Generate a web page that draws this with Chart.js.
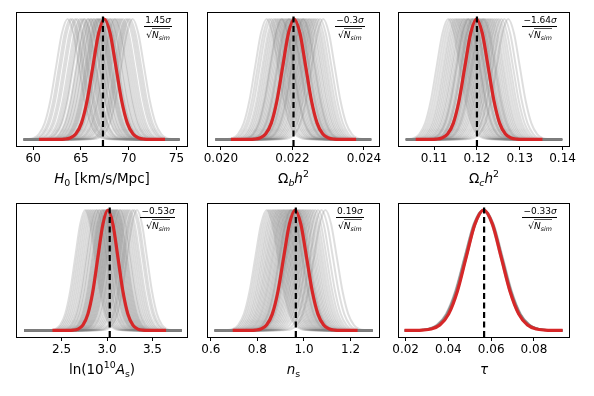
<!DOCTYPE html>
<html>
<head>
<meta charset="utf-8">
<script src="https://cdn.jsdelivr.net/npm/chart.js@4.4.1/dist/chart.umd.min.js"></script>
<style>
  body { margin: 0; background: #fff; }
  #wrap { position: relative; width: 594px; height: 396px; overflow: hidden; }
  canvas { position: absolute; }
</style>
</head>
<body>
<div id="wrap"></div>
<script>
// shape of one normalised posterior, in units of sigma from its mean
const profileSteps   = [-6, -5, -4, -3.5, -3, -2.5, -2, -1.5, -1, -0.5, 0, 0.5, 1, 1.5, 2, 2.5, 3, 3.5, 4, 5, 6];
const profileHeights = [0, 0, 0.0003, 0.0022, 0.011, 0.044, 0.135, 0.325, 0.607, 0.882, 1, 0.882, 0.607, 0.325, 0.135, 0.044, 0.011, 0.0022, 0.0003, 0, 0];

// H0
const h0Ticks = [60, 65, 70, 75];
const h0Sims = [63.6, 63.9, 64.1, 64.4, 64.6, 64.9, 65.1, 65.3, 65.4, 65.7, 65.8, 66.0, 66.1, 66.3, 66.4, 66.6, 66.7, 66.9, 67.0, 67.1,
                67.3, 67.4, 67.5, 67.7, 67.8, 68.0, 68.1, 68.3, 68.5, 68.6, 68.8, 69.0, 69.2, 69.4, 69.7, 69.9, 70.1, 70.4, 66.8, 67.6];
// omega_b h^2
const obTicks = [0.020, 0.022, 0.024];
const obSims = [0.02128, 0.02135, 0.02141, 0.02148, 0.02153, 0.02158, 0.02163, 0.02168, 0.02172, 0.02176, 0.02180, 0.02184, 0.02188, 0.02192,
                0.02195, 0.02199, 0.02203, 0.02206, 0.02210, 0.02213, 0.02217, 0.02221, 0.02224, 0.02228, 0.02232, 0.02236, 0.02240, 0.02245,
                0.02249, 0.02254, 0.02259, 0.02264, 0.02270, 0.02277, 0.02286, 0.02201, 0.02215, 0.02190, 0.02230, 0.02170];
// omega_c h^2
const ocTicks = [0.11, 0.12, 0.13, 0.14];
const ocSims = [0.1133, 0.1138, 0.1143, 0.1148, 0.1152, 0.1156, 0.1160, 0.1164, 0.1168, 0.1171, 0.1175, 0.1178, 0.1181, 0.1185, 0.1188,
                0.1191, 0.1194, 0.1197, 0.1200, 0.1203, 0.1207, 0.1210, 0.1213, 0.1217, 0.1220, 0.1224, 0.1228, 0.1232, 0.1236, 0.1241,
                0.1246, 0.1251, 0.1257, 0.1264, 0.1273, 0.1190, 0.1205, 0.1215, 0.1180, 0.1198];
// ln(10^10 As)
const asTicks = [2.5, 3.0, 3.5];
const asSims = [2.76, 2.78, 2.80, 2.82, 2.84, 2.86, 2.88, 2.89, 2.91, 2.92, 2.94, 2.95, 2.96, 2.98, 2.99, 3.00, 3.01, 3.02, 3.03, 3.05,
                3.06, 3.07, 3.08, 3.10, 3.11, 3.12, 3.14, 3.15, 3.17, 3.19, 3.21, 3.23, 3.25, 3.28, 3.30, 3.33, 2.97, 3.04, 3.09, 3.00];
// n_s
const nsTicks = [0.6, 0.8, 1.0, 1.2];
const nsSims = [0.840, 0.848, 0.856, 0.864, 0.871, 0.878, 0.885, 0.891, 0.897, 0.903, 0.909, 0.914, 0.919, 0.925, 0.930, 0.935, 0.940,
                0.945, 0.950, 0.955, 0.960, 0.965, 0.970, 0.976, 0.981, 0.987, 0.993, 0.999, 1.006, 1.013, 1.021, 1.029, 1.038, 1.048,
                1.060, 1.075, 1.092, 0.958, 0.972, 0.944];
// tau: the simulations barely move, only the widths differ a little
const tauTicks = [0.02, 0.04, 0.06, 0.08];
const tauSims = [0.0560, 0.0563, 0.0566, 0.0569, 0.0562, 0.0568, 0.0565, 0.0564];
const tauSimSigmas = [0.0084, 0.0086, 0.0083, 0.0085, 0.0087, 0.0084, 0.0086, 0.0085];

const fiducials  = [67.3, 0.02203, 0.1200, 3.03, 0.965, 0.0567];
const meanPost   = [67.45, 0.02205, 0.1199, 3.01, 0.962, 0.0565];
const sigmas     = [1.2, 0.00032, 0.0027, 0.11, 0.049, 0.0082];
const redRanges  = [[60.6, 73.8], [0.02028, 0.02378], [0.1057, 0.1353], [2.40, 3.65], [0.694, 1.230], [0.0195, 0.0934]];
const grayRanges = [[59.0, 75.3], [0.01985, 0.0242], [0.1034, 0.1399], [2.09, 3.82], [0.617, 1.294], [0.0195, 0.0934]];
const xLimits    = [[58.3, 76.1], [0.01964, 0.02442], [0.1018, 0.1415], [2.01, 3.88], [0.588, 1.322], [0.0169, 0.0964]];
const tickSets   = [h0Ticks, obTicks, ocTicks, asTicks, nsTicks, tauTicks];
const tickDigits = [0, 3, 2, 1, 1, 2];
const simSets    = [h0Sims, obSims, ocSims, asSims, nsSims, tauSims];
const biases     = ['1.45', '\u22120.3', '\u22121.64', '\u22120.53', '0.19', '\u22120.33'];
const axisLabels = [
  [{t: 'H', i: 1}, {t: '0', sub: 1}, {t: ' [km/s/Mpc]'}],
  [{t: '\u03A9'}, {t: 'b', i: 1, sub: 1}, {t: 'h', i: 1}, {t: '2', sup: 1}],
  [{t: '\u03A9'}, {t: 'c', i: 1, sub: 1}, {t: 'h', i: 1}, {t: '2', sup: 1}],
  [{t: 'ln(10'}, {t: '10', sup: 1}, {t: 'A', i: 1}, {t: 's', sub: 1}, {t: ')'}],
  [{t: 'n', i: 1}, {t: 's', sub: 1}],
  [{t: '\u03C4', i: 1}]
];

const FONT = 'DejaVu Sans';
const frameLefts = [17, 208, 399];
const frameWidths = [170, 171, 170];
const frameTops = [13, 204];
const frameH = 133;
const PAD = 30, PADTOP = 10, AXISH = 50;

function curvePoints(mean, sigma, range) {
  const pts = [{x: range[0], y: 0}];
  profileSteps.forEach((s, k) => {
    const x = mean + s * sigma;
    if (x > range[0] && x < range[1]) pts.push({x: x, y: profileHeights[k]});
  });
  pts.push({x: range[1], y: 0});
  return pts;
}

function drawRich(ctx, segs, cx, baseY, size) {
  const parts = segs.map(s => {
    const sz = (s.sub || s.sup) ? size * 0.7 : size;
    const font = (s.i ? 'italic ' : '') + sz + 'px "' + FONT + '"';
    ctx.font = font;
    return {t: s.t, font: font, w: ctx.measureText(s.t).width,
            dy: s.sub ? size * 0.22 : (s.sup ? -size * 0.42 : 0)};
  });
  const total = parts.reduce((a, p) => a + p.w, 0);
  let x = cx - total / 2;
  ctx.textBaseline = 'alphabetic';
  ctx.textAlign = 'left';
  parts.forEach(p => { ctx.font = p.font; ctx.fillText(p.t, x, baseY + p.dy); x += p.w; });
  return {left: cx - total / 2, right: cx + total / 2};
}

const panelText = {
  id: 'panelText',
  afterDraw(chart) {
    const {ctx, chartArea} = chart;
    const o = chart.options.plugins.panelText;
    ctx.save();
    // frame
    ctx.strokeStyle = '#000';
    ctx.lineWidth = 1;
    ctx.strokeRect(chartArea.left - 0.5, chartArea.top - 0.5, chartArea.right - chartArea.left + 1, chartArea.bottom - chartArea.top + 1);
    ctx.fillStyle = '#000';
    // axis label
    const cx = (chartArea.left + chartArea.right) / 2;
    drawRich(ctx, o.label, cx, chartArea.bottom + 37, 13.5);
    // bias annotation
    const ax = chartArea.left + 0.83 * (chartArea.right - chartArea.left);
    const ay = chartArea.top;
    const num = drawRich(ctx, [{t: o.bias}, {t: '\u03C3', i: 1}], ax, ay + 10, 9);
    const den = drawRich(ctx, [{t: '\u221A'}, {t: 'N', i: 1}, {t: 'sim', i: 1, sub: 1}], ax, ay + 25, 9);
    const w = Math.max(num.right - num.left, den.right - den.left) + 2;
    ctx.fillRect(Math.round(ax - w / 2), Math.round(ay + 13), Math.round(w), 1);
    ctx.fillStyle = '#555';
    ctx.fillRect(Math.round(den.left + 6), Math.round(ay + 15), Math.round(den.right - den.left - 6), 1);
    ctx.restore();
  }
};

const wrap = document.getElementById('wrap');
for (let p = 0; p < 6; p++) {
  const col = p % 3, row = Math.floor(p / 3);
  const cv = document.createElement('canvas');
  const w = frameWidths[col] + 2 * PAD, h = frameH + PADTOP + AXISH;
  cv.width = w; cv.height = h;
  cv.style.left = (frameLefts[col] - PAD) + 'px';
  cv.style.top = (frameTops[row] - PADTOP) + 'px';
  cv.style.width = w + 'px'; cv.style.height = h + 'px';
  wrap.appendChild(cv);

  const datasets = [];
  datasets.push({data: [{x: fiducials[p], y: -0.055}, {x: fiducials[p], y: 1.05}],
                 borderColor: '#000', borderWidth: 2.2, borderDash: [6, 3.5], pointRadius: 0});
  datasets.push({data: curvePoints(meanPost[p], sigmas[p], redRanges[p]),
                 borderColor: '#d62728', borderWidth: 3.2, pointRadius: 0, cubicInterpolationMode: 'monotone'});
  simSets[p].forEach((m, k) => {
    const sg = p === 5 ? tauSimSigmas[k] : sigmas[p];
    datasets.push({data: curvePoints(m, sg, grayRanges[p]),
                   borderColor: p === 5 ? 'rgba(128,128,128,0.45)' : 'rgba(128,128,128,0.26)',
                   borderWidth: 2, pointRadius: 0, cubicInterpolationMode: 'monotone'});
  });

  new Chart(cv, {
    type: 'line',
    data: {datasets: datasets},
    options: {
      responsive: false,
      animation: false,
      events: [],
      devicePixelRatio: 1,
      layout: {padding: {left: PAD, right: PAD, top: PADTOP, bottom: 0}},
      plugins: {
        legend: {display: false},
        tooltip: {enabled: false},
        panelText: {label: axisLabels[p], bias: biases[p]}
      },
      scales: {
        x: {
          type: 'linear',
          min: xLimits[p][0], max: xLimits[p][1],
          afterBuildTicks: s => { s.ticks = tickSets[p].map(v => ({value: v})); },
          afterFit: s => { s.height = AXISH; },
          ticks: {
            font: {family: FONT, size: 12}, color: '#000', padding: 2,
            maxRotation: 0, autoSkip: false,
            callback: v => Number(v).toFixed(tickDigits[p])
          },
          grid: {drawOnChartArea: false, drawTicks: true, tickLength: 4, color: '#000', lineWidth: 1},
          border: {display: false}
        },
        y: {display: false, min: -0.055, max: 1.05}
      }
    },
    plugins: [panelText]
  });
}
</script>
</body>
</html>
